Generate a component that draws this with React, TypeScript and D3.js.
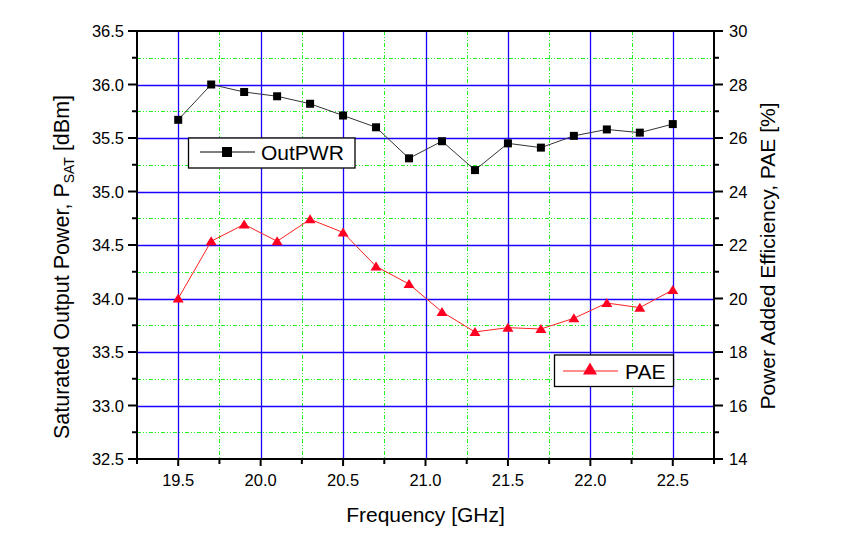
import React, { useEffect, useRef } from "react";
import * as d3 from "d3";

const freqs = [19.5, 19.7, 19.9, 20.1, 20.3, 20.5, 20.7, 20.9, 21.1, 21.3, 21.5, 21.7, 21.9, 22.1, 22.3, 22.5];
const outPwr = [35.67, 36.0, 35.93, 35.89, 35.82, 35.71, 35.6, 35.31, 35.47, 35.2, 35.45, 35.41, 35.52, 35.58, 35.55, 35.63];
const pae = [20.0, 22.14, 22.77, 22.14, 22.96, 22.47, 21.2, 20.54, 19.5, 18.75, 18.91, 18.86, 19.26, 19.83, 19.66, 20.32];
const xTicks = [19.5, 20.0, 20.5, 21.0, 21.5, 22.0, 22.5];
const yLeftTicks = [32.5, 33.0, 33.5, 34.0, 34.5, 35.0, 35.5, 36.0, 36.5];
const yRightTicks = [14, 16, 18, 20, 22, 24, 26, 28, 30];

const W = 851, H = 551;
const M = { left: 137, right: 714, top: 31, bottom: 459 };
const FONT = "'Liberation Sans', Arial, sans-serif";

export default function App() {
  const ref = useRef<SVGSVGElement>(null);
  useEffect(() => {
    const svg = d3.select(ref.current);
    svg.selectAll("*").remove();
    const x = d3.scaleLinear().domain([19.25, 22.75]).range([M.left, M.right]);
    const yL = d3.scaleLinear().domain([32.5, 36.5]).range([M.bottom, M.top]);
    const yR = d3.scaleLinear().domain([14, 30]).range([M.bottom, M.top]);

    const g = svg.append("g");
    const xMinor = d3.range(19.75, 22.75, 0.5);
    const yMinor = d3.range(32.75, 36.5, 0.5);
    const dash = "4,2,1,2,1,2";
    const green = "#22ee22";
    const blue = "#1a00ff";
    g.selectAll(".gxm").data(xMinor).enter().append("line")
      .attr("x1", d => Math.round(x(d)) + 0.5).attr("x2", d => Math.round(x(d)) + 0.5).attr("y1", M.top).attr("y2", M.bottom)
      .attr("stroke", green).attr("stroke-width", 1).attr("stroke-dasharray", dash);
    g.selectAll(".gym").data(yMinor).enter().append("line")
      .attr("y1", d => Math.round(yL(d)) + 0.5).attr("y2", d => Math.round(yL(d)) + 0.5).attr("x1", M.left).attr("x2", M.right)
      .attr("stroke", green).attr("stroke-width", 1).attr("stroke-dasharray", dash);
    g.selectAll(".gx").data(xTicks).enter().append("line")
      .attr("x1", d => Math.round(x(d)) + 0.5).attr("x2", d => Math.round(x(d)) + 0.5).attr("y1", M.top).attr("y2", M.bottom)
      .attr("stroke", blue).attr("stroke-width", 1.3);
    g.selectAll(".gy").data(yLeftTicks.slice(1, -1)).enter().append("line")
      .attr("y1", d => Math.round(yL(d)) + 0.5).attr("y2", d => Math.round(yL(d)) + 0.5).attr("x1", M.left).attr("x2", M.right)
      .attr("stroke", blue).attr("stroke-width", 1.3);

    const lineL = d3.line<number>().x((d, i) => x(freqs[i])).y(d => yL(d));
    const lineR = d3.line<number>().x((d, i) => x(freqs[i])).y(d => yR(d));
    svg.append("path").attr("d", lineL(outPwr)).attr("fill", "none").attr("stroke", "#333").attr("stroke-width", 1);
    svg.append("path").attr("d", lineR(pae)).attr("fill", "none").attr("stroke", "#ff2020").attr("stroke-width", 1);
    const sq = 8;
    svg.selectAll(".sq").data(outPwr).enter().append("rect")
      .attr("x", (d, i) => x(freqs[i]) - sq / 2).attr("y", d => yL(d) - sq / 2)
      .attr("width", sq).attr("height", sq).attr("fill", "#000");
    const tri = (cx: number, cy: number, w: number, h: number) =>
      `M${cx},${cy - h * 0.55}L${cx + w / 2},${cy + h * 0.45}L${cx - w / 2},${cy + h * 0.45}Z`;
    svg.selectAll(".tr").data(pae).enter().append("path")
      .attr("d", (d, i) => tri(x(freqs[i]), yR(d), 11, 9)).attr("fill", "#ff0022");

    const ax = svg.append("g").attr("stroke", "#000").attr("stroke-width", 2).attr("fill", "none");
    ax.append("line").attr("x1", M.left).attr("x2", M.right).attr("y1", M.top).attr("y2", M.top);
    ax.append("line").attr("x1", M.left).attr("x2", M.right).attr("y1", M.bottom).attr("y2", M.bottom);
    ax.append("line").attr("x1", M.left).attr("x2", M.left).attr("y1", M.top - 1).attr("y2", M.bottom + 1);
    ax.append("line").attr("x1", M.right).attr("x2", M.right).attr("y1", M.top - 1).attr("y2", M.bottom + 1);

    const xAll = d3.range(19.25, 22.76, 0.25);
    xAll.forEach((v, i) => {
      const major = i % 2 === 1;
      ax.append("line").attr("x1", x(v)).attr("x2", x(v)).attr("y1", M.bottom).attr("y2", M.bottom + (major ? 7 : 5));
    });
    const yAll = d3.range(32.5, 36.51, 0.25);
    yAll.forEach((v, i) => {
      const major = i % 2 === 0;
      ax.append("line").attr("y1", yL(v)).attr("y2", yL(v)).attr("x1", M.left).attr("x2", M.left - (major ? 9 : 5));
    });
    const rAll = d3.range(14, 30.01, 1);
    rAll.forEach((v, i) => {
      const major = i % 2 === 0;
      ax.append("line").attr("y1", yR(v)).attr("y2", yR(v)).attr("x1", M.right).attr("x2", M.right + (major ? 9 : 5));
    });

    const txt = svg.append("g").attr("font-family", FONT).attr("fill", "#000");
    txt.selectAll(".xl").data(xTicks).enter().append("text")
      .attr("x", d => x(d)).attr("y", M.bottom + 27).attr("text-anchor", "middle")
      .attr("font-size", 16.5).text(d => d.toFixed(1));
    txt.selectAll(".yl").data(yLeftTicks).enter().append("text")
      .attr("x", M.left - 13).attr("y", d => yL(d) + 6).attr("text-anchor", "end")
      .attr("font-size", 16.5).text(d => d.toFixed(1));
    txt.selectAll(".yr").data(yRightTicks).enter().append("text")
      .attr("x", M.right + 15).attr("y", d => yR(d) + 6).attr("text-anchor", "start")
      .attr("font-size", 16.5).text(d => String(d));

    txt.append("text").attr("x", (M.left + M.right) / 2).attr("y", 522).attr("text-anchor", "middle")
      .attr("font-size", 21).text("Frequency [GHz]");
    const lt = txt.append("text").attr("transform", `translate(69,267) rotate(-90)`)
      .attr("text-anchor", "middle").attr("font-size", 21.5);
    lt.append("tspan").text("Saturated Output Power, P");
    lt.append("tspan").attr("font-size", 14).attr("dy", 5).text("SAT");
    lt.append("tspan").attr("dy", -5).text(" [dBm]");
    txt.append("text").attr("transform", `translate(775,256) rotate(-90)`)
      .attr("text-anchor", "middle").attr("font-size", 21).text("Power Added Efficiency, PAE [%]");

    const l1 = svg.append("g");
    l1.append("rect").attr("x", 188.5).attr("y", 138).attr("width", 166.5).attr("height", 30)
      .attr("fill", "#fff").attr("stroke", "#000").attr("stroke-width", 1.3);
    l1.append("line").attr("x1", 200).attr("x2", 255).attr("y1", 152).attr("y2", 152).attr("stroke", "#000").attr("stroke-width", 1);
    l1.append("rect").attr("x", 227 - sq / 2 - 1).attr("y", 152 - sq / 2 - 1).attr("width", sq + 2).attr("height", sq + 2).attr("fill", "#000");
    l1.append("text").attr("x", 261).attr("y", 160).attr("font-family", FONT).attr("font-size", 21).text("OutPWR");

    const l2 = svg.append("g");
    l2.append("rect").attr("x", 554.5).attr("y", 355).attr("width", 119).attr("height", 31.5)
      .attr("fill", "#fff").attr("stroke", "#000").attr("stroke-width", 1.3);
    l2.append("line").attr("x1", 563).attr("x2", 618).attr("y1", 371).attr("y2", 371).attr("stroke", "#ff2020").attr("stroke-width", 1);
    l2.append("path").attr("d", tri(590, 369, 14, 12)).attr("fill", "#ff0022");
    l2.append("text").attr("x", 625).attr("y", 379).attr("font-family", FONT).attr("font-size", 21).text("PAE");
  }, []);
  return (
    <svg ref={ref} width={W} height={H} style={{ position: "absolute", left: 0, top: 0, background: "#fff" }} />
  );
}
